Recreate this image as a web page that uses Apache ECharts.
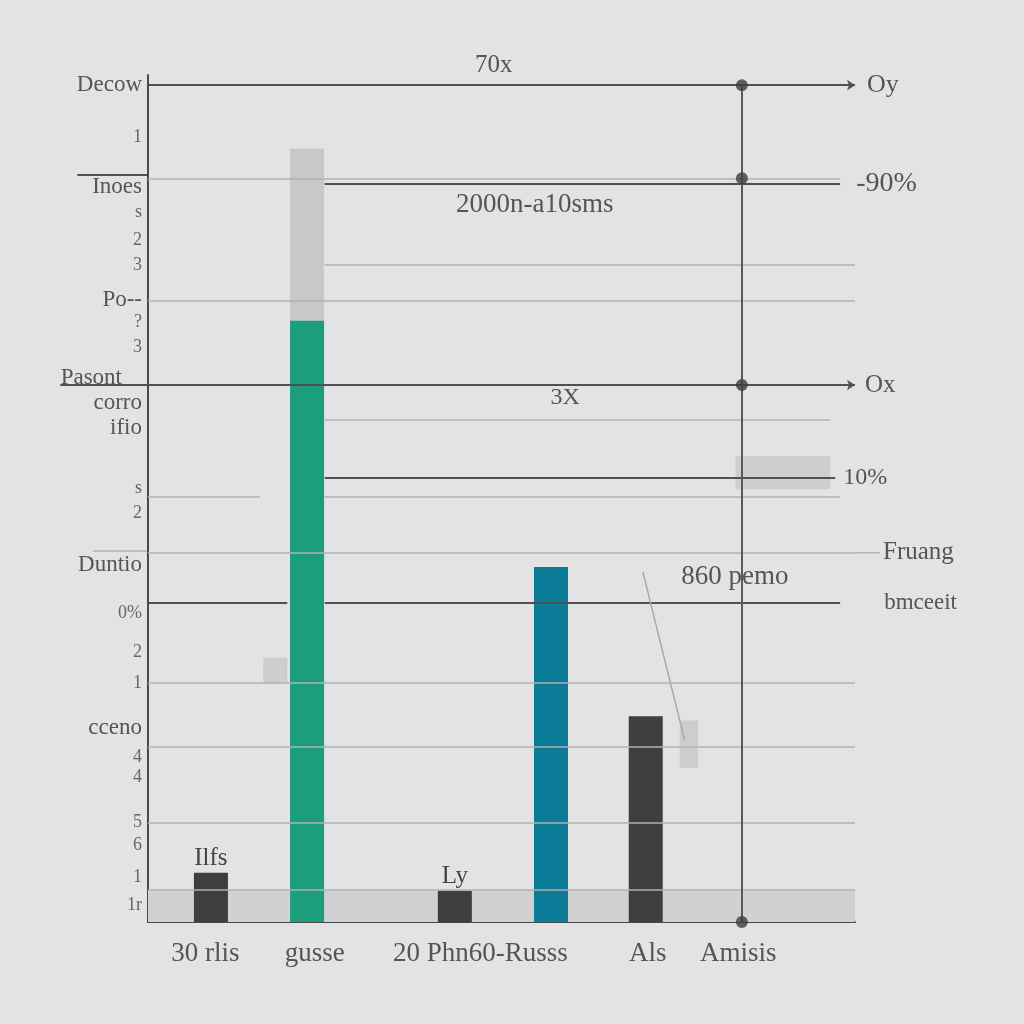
<!DOCTYPE html>
<html><head><meta charset="utf-8">
<script src="https://cdn.jsdelivr.net/npm/echarts@6/dist/echarts.min.js"></script>
<style>html,body{margin:0;background:#e3e3e5}#c{width:1024px;height:1024px}</style>
</head><body><div id="c"></div>
<script>
// ---- data ----
const categories = ['30 rlis', 'gusse', '20 Phn60-Russs', 'Als', 'Amisis'];
const categoryPos = [8.1, 23.6, 47.0, 70.7, 83.5];
const barPos = [8.9, 22.5, 43.4, 57.0, 70.4];
const barValues = [5.8, 71.0, 3.7, 41.9, 24.3];
const barTopValues = [0, 20.3, 0, 0, 0];
const barNames = ['Ilfs', '', 'Ly', '', ''];
const barKinds = ['dark', 'green', 'dark', 'teal', 'dark'];
const yTickValues = [98.8, 92.6, 86.8, 83.8, 80.5, 77.5, 73.4, 70.8, 67.9, 64.2, 61.3, 58.3, 51.2, 48.3, 42.1, 36.5, 31.9, 28.2, 22.9, 19.5, 17.1, 11.8, 9.1, 5.3, 2.0];
const yTickLabels = ['Decow', '1', 'Inoes', 's', '2', '3', 'Po--', '?', '3', 'Pasont', 'corro', 'ifio', 's', '2', 'Duntio', '0%', '2', '1', 'cceno', '4', '4', '5', '6', '1', '1r'];
const lineLevels = [98.8, 87.8, 87.2, 77.6, 73.4, 63.4, 59.3, 52.4, 50.2, 50.2, 43.6, 37.7, 37.7, 28.2, 20.7, 11.7, 3.8];
const lineStarts = [0, 0, 25, 25, 0, 0, 25, 25, 0, 25, 0, 0, 25, 0, 0, 0, 0];
const lineEnds = [100, 97.9, 97.9, 100, 100, 100, 96.5, 97.2, 15.8, 97.9, 100, 19.7, 97.9, 100, 100, 100, 100];
const lineKinds = ['axis', 'minor', 'major', 'minor', 'minor', 'axis', 'minor', 'major', 'minor', 'minor', 'minor', 'major', 'major', 'minor', 'minor', 'minor', 'minor'];
const lineTags = ['Oy', '', '-90%', '', '', 'Ox', '', '10%', '', '', 'Fruang', '', 'bmceeit', '', '', '', ''];
// short line pieces that run outside the plot frame (in axis units)
const extLevels = [88.2, 63.4, 43.8, 43.6];
const extStarts = [-10.0, -12.4, -7.8, 100];
const extEnds = [0, 0, 0, 103.5];
const extKinds = ['major', 'major', 'minor', 'minor'];
const notes = ['2000n-a10sms', '3X', '860 pemo'];
const noteX = [54.7, 59.0, 83.0];
const noteY = [84.7, 61.9, 40.7];
const markerX = 84.0;
const markerY = [98.8, 87.8, 63.4, 0];
const pointerFrom = [70.0, 41.3];
const pointerTo = [75.9, 21.5];
const bandTop = 3.8;
const topNote = '70x';

// ---- styling ----
const SERIF = '"Liberation Serif", "DejaVu Serif", serif';
const TXT = '#555';
const colors = { dark: '#3e3e3e', green: '#1c9e7c', teal: '#0b7c98', grey: '#c8c8ca' };
const bigLabels = new Set(['Decow', 'Inoes', 'Duntio', 'cceno', 'corro', 'Po--', 'ifio']);
const tagDistance = { 'Oy': 12, '-90%': 16, 'Ox': 10, '10%': 8, 'Fruang': 28, 'bmceeit': 44 };
const tagSize = { 'Oy': 26, '-90%': 28, 'Ox': 25, '10%': 24, 'Fruang': 25, 'bmceeit': 23 };
const minorStyle = { color: '#b2b2b4', width: 1.5, type: 'solid' };
const majorStyle = { color: '#505052', width: 2, type: 'solid' };

const mlData = lineLevels.map((v, i) => {
  const k = lineKinds[i];
  const st = k === 'minor' ? minorStyle : majorStyle;
  const tag = lineTags[i];
  return [
    { coord: [lineStarts[i], v], symbol: 'none', lineStyle: st,
      label: { show: !!tag, position: 'end', formatter: tag,
               distance: tagDistance[tag] || 10,
               fontFamily: SERIF, fontSize: tagSize[tag] || 22, color: TXT } },
    { coord: [lineEnds[i], v], symbol: k === 'axis' ? 'arrow' : 'none', symbolSize: 8 }
  ];
});
mlData.push([
  { coord: [markerX, markerY[markerY.length - 1]], symbol: 'none', lineStyle: { color: '#5a5a5c', width: 2, type: 'solid' }, label: { show: false } },
  { coord: [markerX, markerY[0]], symbol: 'none' }
]);
mlData.push([
  { coord: pointerFrom, symbol: 'none', lineStyle: { color: '#a8a8aa', width: 1.5, type: 'solid' }, label: { show: false } },
  { coord: pointerTo, symbol: 'none' }
]);

const option = {
  backgroundColor: '#e3e3e5',
  animation: false,
  title: { text: topNote, left: 470, top: 48, textStyle: { fontFamily: SERIF, fontSize: 25, fontWeight: 'normal', color: TXT } },
  grid: { left: 148, right: 169, top: 75, bottom: 102 },
  xAxis: {
    type: 'value', min: 0, max: 100,
    axisLine: { show: true, lineStyle: { color: '#4a4a4c', width: 2 } },
    axisTick: { show: false },
    splitLine: { show: false },
    axisLabel: {
      customValues: categoryPos,
      formatter: v => { const i = categoryPos.findIndex(p => Math.abs(p - v) < 0.01); return i >= 0 ? categories[i] : ''; },
      fontFamily: SERIF, fontSize: 27, color: TXT, margin: 18
    }
  },
  yAxis: {
    type: 'value', min: 0, max: 100,
    axisLine: { show: true, lineStyle: { color: '#4a4a4c', width: 2 } },
    axisTick: { show: false },
    splitLine: { show: false },
    axisLabel: {
      customValues: yTickValues,
      formatter: v => {
        const i = yTickValues.findIndex(p => Math.abs(p - v) < 0.01);
        if (i < 0) return '';
        const t = yTickLabels[i];
        if (t === 'Pasont') return '{p|' + t + '}';
        return bigLabels.has(t) ? '{b|' + t + '}' : '{s|' + t + '}';
      },
      margin: 6,
      rich: {
        b: { fontFamily: SERIF, fontSize: 23, color: TXT },
        p: { fontFamily: SERIF, fontSize: 23, color: TXT, padding: [0, 20, 0, 0] },
        s: { fontFamily: SERIF, fontSize: 18, color: '#666' }
      }
    }
  },
  series: [
    {
      type: 'bar', barWidth: 34, barGap: '-100%', z: 1,
      data: barPos.map((x, i) => ({ value: [x, barTopValues[i] > 0 ? barValues[i] + barTopValues[i] : 0], itemStyle: { color: colors.grey } }))
    },
    {
      type: 'bar', barWidth: 34, barGap: '-100%', z: 2,
      data: barPos.map((x, i) => ({
        value: [x, barValues[i]],
        itemStyle: { color: colors[barKinds[i]] },
        label: { show: !!barNames[i], position: 'top', formatter: barNames[i], fontFamily: SERIF, fontSize: 25, color: '#444', distance: 2 }
      }))
    },
    {
      type: 'scatter', z: 5,
      symbolSize: 12,
      itemStyle: { color: '#3c3c3e' },
      data: markerY.map(y => [markerX, y]),
      markLine: { silent: true, animation: false, symbol: ['none', 'none'], data: mlData },
      markArea: {
        silent: true,
        data: [
          [{ coord: [0, 0], itemStyle: { color: '#d1d1d3' } }, { coord: [100, bandTop] }],
          [{ coord: [83.1, 55.0], itemStyle: { color: 'rgba(190,190,192,0.55)' } }, { coord: [96.5, 51.1] }],
          [{ coord: [16.3, 31.2], itemStyle: { color: 'rgba(190,190,192,0.6)' } }, { coord: [19.7, 28.2] }],
          [{ coord: [75.2, 23.8], itemStyle: { color: 'rgba(190,190,192,0.6)' } }, { coord: [77.8, 18.2] }]
        ]
      },
      markPoint: {
        silent: true,
        symbol: 'circle', symbolSize: 1,
        itemStyle: { color: 'rgba(0,0,0,0)' },
        label: { show: true, position: 'inside', fontFamily: SERIF, fontSize: 27, color: TXT },
        data: notes.map((n, i) => ({ coord: [noteX[i], noteY[i]], value: n, label: { formatter: n, fontSize: n === '3X' ? 24 : 27 } }))
      }
    }
  ]
};
const chart = echarts.init(document.getElementById('c'));
chart.setOption(option);
// frame-crossing line pieces, positioned through the chart's own scales
const ext = extLevels.map((v, i) => {
  const a = chart.convertToPixel({ gridIndex: 0 }, [extStarts[i], v]);
  const b = chart.convertToPixel({ gridIndex: 0 }, [extEnds[i], v]);
  return { type: 'line', shape: { x1: a[0], y1: a[1], x2: b[0], y2: b[1] },
           style: extKinds[i] === 'minor' ? { stroke: '#b2b2b4', lineWidth: 1.5 } : { stroke: '#505052', lineWidth: 2 }, silent: true };
});
chart.setOption({ graphic: ext });
</script>
</body></html>
